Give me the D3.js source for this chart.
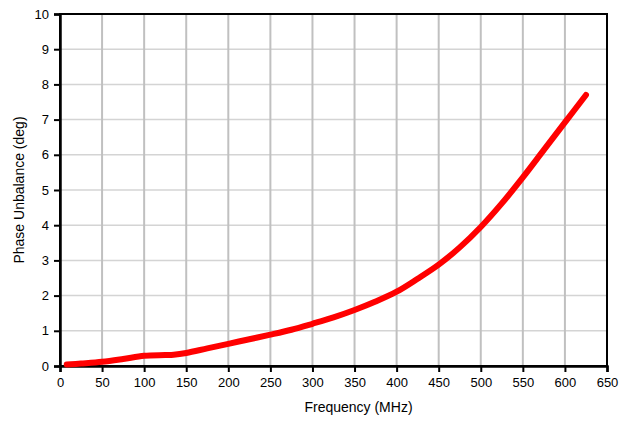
<!DOCTYPE html>
<html><head><meta charset="utf-8">
<script src="https://cdn.jsdelivr.net/npm/d3@7"></script>
<style>body{margin:0;background:#fff;} svg{display:block;} text{font-family:"Liberation Sans",Arial,sans-serif;}</style>
</head><body>
<svg id="c" width="631" height="426"></svg>
<script>
const frequencies = [8, 25, 50, 75, 100, 125, 135, 150, 175, 200, 225, 250, 275, 300, 325, 350, 375, 400, 425, 450, 475, 500, 525, 550, 575, 600, 625];
const phaseUnbalance = [0.04, 0.07, 0.12, 0.2, 0.29, 0.31, 0.32, 0.37, 0.5, 0.63, 0.76, 0.89, 1.03, 1.2, 1.38, 1.59, 1.83, 2.11, 2.48, 2.88, 3.37, 3.95, 4.62, 5.36, 6.14, 6.92, 7.7];
const xTicks = [0, 50, 100, 150, 200, 250, 300, 350, 400, 450, 500, 550, 600, 650];
const yTicks = [0, 1, 2, 3, 4, 5, 6, 7, 8, 9, 10];
const xTitle = "Frequency (MHz)";
const yTitle = "Phase Unbalance (deg)";

const svg = d3.select("#c");
const L = 60, R = 607, T = 14, B = 366;
const x = d3.scaleLinear().domain([0, 650]).range([L, R]);
const y = d3.scaleLinear().domain([0, 10]).range([B, T]);

// grid
svg.append("g").selectAll("line").data(yTicks.slice(1)).join("line")
  .attr("x1", L).attr("x2", R).attr("y1", d => y(d)).attr("y2", d => y(d))
  .attr("stroke", "#d4d4d4").attr("stroke-width", 1.5);
svg.append("g").selectAll("line").data(xTicks.slice(1, -1)).join("line")
  .attr("x1", d => x(d)).attr("x2", d => x(d)).attr("y1", T).attr("y2", B)
  .attr("stroke", "#c0c0c0").attr("stroke-width", 2);

// frame
svg.append("rect").attr("x", L).attr("y", T).attr("width", R - L).attr("height", B - T)
  .attr("fill", "none").attr("stroke", "#000").attr("stroke-width", 2);

// axes
const xAxis = d3.axisBottom(x).tickValues(xTicks).tickSize(6).tickPadding(6).tickFormat(d3.format("d"));
const gx = svg.append("g").attr("transform", `translate(0,${B})`).call(xAxis);
const yAxis = d3.axisLeft(y).tickValues(yTicks).tickSize(6).tickPadding(5).tickFormat(d3.format("d"));
const gy = svg.append("g").attr("transform", `translate(${L},0)`).call(yAxis);
[gx, gy].forEach(g => {
  g.select(".domain").attr("stroke", "#000").attr("stroke-width", 2.5);
  g.selectAll(".tick line").attr("stroke", "#000").attr("stroke-width", 2);
  g.selectAll(".tick text").attr("fill", "#000").style("font-size", "13px").style("font-family", "'Liberation Sans', Arial, sans-serif");
});

// line
const data = frequencies.map((f, i) => [f, phaseUnbalance[i]]);
svg.append("path").datum(data)
  .attr("fill", "none").attr("stroke", "#ff0000").attr("stroke-width", 6)
  .attr("stroke-linecap", "round").attr("stroke-linejoin", "round")
  .attr("d", d3.line().x(d => x(d[0])).y(d => y(d[1])).curve(d3.curveCatmullRom.alpha(0.5)));

// titles
svg.append("text").attr("x", (L + R) / 2 + 25).attr("y", 412).attr("text-anchor", "middle")
  .style("font-size", "14px").text(xTitle);
svg.append("text").attr("transform", `translate(24,${(T + B) / 2}) rotate(-90)`).attr("text-anchor", "middle")
  .style("font-size", "14px").text(yTitle);
</script>
</body></html>
